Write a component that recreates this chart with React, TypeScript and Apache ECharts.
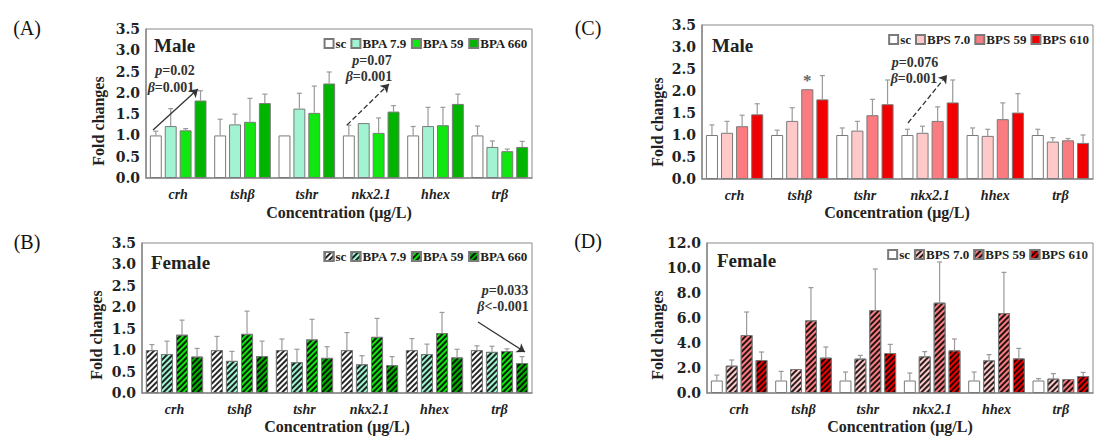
import React, { useEffect, useRef } from 'react';
import * as echarts from 'echarts';

const categories = ['crh', 'tshβ', 'tshr', 'nkx2.1', 'hhex', 'trβ'];
const bpaNames = ['sc', 'BPA 7.9', 'BPA 59', 'BPA 660'];
const bpsNames = ['sc', 'BPS 7.0', 'BPS 59', 'BPS 610'];

// (A) Male, BPA
const aSc = [1.0, 1.0, 1.0, 1.0, 1.0, 1.0];
const aBpa79 = [1.22, 1.26, 1.63, 1.29, 1.22, 0.73];
const aBpa59 = [1.12, 1.32, 1.53, 1.06, 1.24, 0.63];
const aBpa660 = [1.82, 1.76, 2.22, 1.56, 1.74, 0.73];
const aScSd = [0.1, 0.38, 0, 0.24, 0.21, 0.22];
const aBpa79Sd = [0.41, 0.24, 0.36, 0, 0.44, 0.14];
const aBpa59Sd = [0.04, 0.55, 0.63, 0.35, 0.42, 0.05];
const aBpa660Sd = [0.23, 0.21, 0.27, 0.14, 0.23, 0.13];

// (B) Female, BPA
const bSc = [1.0, 1.0, 1.0, 1.0, 1.0, 1.0];
const bBpa79 = [0.91, 0.75, 0.72, 0.67, 0.91, 0.96];
const bBpa59 = [1.36, 1.38, 1.25, 1.31, 1.4, 0.98];
const bBpa660 = [0.85, 0.86, 0.82, 0.65, 0.83, 0.7];
const bScSd = [0.13, 0.32, 0.26, 0.41, 0.27, 0.1];
const bBpa79Sd = [0.3, 0.22, 0.3, 0.2, 0.23, 0.13];
const bBpa59Sd = [0.34, 0.53, 0.47, 0.43, 0.48, 0.05];
const bBpa660Sd = [0.19, 0.35, 0.26, 0.2, 0.19, 0.15];

// (C) Male, BPS
const cSc = [1.0, 1.0, 1.0, 1.0, 1.0, 1.0];
const cBps70 = [1.05, 1.32, 1.1, 1.05, 0.98, 0.85];
const cBps59 = [1.2, 2.04, 1.45, 1.32, 1.36, 0.88];
const cBps610 = [1.47, 1.81, 1.7, 1.74, 1.51, 0.82];
const cScSd = [0.23, 0.11, 0.16, 0.13, 0.16, 0.13];
const cBps70Sd = [0.26, 0.3, 0.21, 0.15, 0.15, 0.09];
const cBps59Sd = [0.25, 0, 0.36, 0.32, 0.37, 0.04];
const cBps610Sd = [0.24, 0.54, 0.55, 0.51, 0.43, 0.18];

// (D) Female, BPS
const dSc = [1.0, 1.0, 1.0, 1.0, 1.0, 1.0];
const dBps70 = [2.19, 1.92, 2.75, 2.93, 2.61, 1.15];
const dBps59 = [4.64, 5.81, 6.64, 7.23, 6.4, 1.12];
const dBps610 = [2.64, 2.83, 3.2, 3.41, 2.77, 1.36];
const dScSd = [0.43, 0.73, 0.68, 0.6, 0.68, 0.15];
const dBps70Sd = [0.45, 0, 0.26, 0.38, 0.46, 0.4];
const dBps59Sd = [1.84, 2.62, 3.28, 3.25, 3.25, 0];
const dBps610Sd = [0.64, 0.85, 0.69, 0.91, 0.8, 0.29];

const yTicksSmall = { max: 3.5, interval: 0.5 };
const yTicksLarge = { max: 12, interval: 2 };

const greenColors = ['#ffffff', '#a2f3d2', '#10e610', '#00b400'];
const redColors = ['#ffffff', '#ffc9c9', '#fa7c80', '#f00000'];

const SERIF = '"Liberation Serif", "Times New Roman", serif';
const WIDE_SERIF = '"DejaVu Serif", "Liberation Serif", serif';
const CAT_GAP = 0.12;
const BAR_GAP = 0.25;

const hatch = {
  symbol: 'rect',
  symbolSize: 1,
  color: 'rgba(0,0,0,0.85)',
  dashArrayX: [1, 0],
  dashArrayY: [1.5, 2],
  rotation: -Math.PI / 4,
};

const panels = [
  {
    key: 'A', grid: { left: 146, top: 29, width: 386, height: 149 },
    names: bpaNames, means: [aSc, aBpa79, aBpa59, aBpa660], sds: [aScSd, aBpa79Sd, aBpa59Sd, aBpa660Sd],
    colors: greenColors, hatched: [false, false, false, false], y: yTicksSmall,
    legend: { right: 582, top: 32 },
  },
  {
    key: 'B', grid: { left: 142, top: 243, width: 390, height: 150 },
    names: bpaNames, means: [bSc, bBpa79, bBpa59, bBpa660], sds: [bScSd, bBpa79Sd, bBpa59Sd, bBpa660Sd],
    colors: greenColors, hatched: [true, true, true, true], y: yTicksSmall,
    legend: { right: 582, top: 245 },
  },
  {
    key: 'C', grid: { left: 702, top: 25, width: 391, height: 154 },
    names: bpsNames, means: [cSc, cBps70, cBps59, cBps610], sds: [cScSd, cBps70Sd, cBps59Sd, cBps610Sd],
    colors: redColors, hatched: [false, false, false, false], y: yTicksSmall,
    legend: { right: 21, top: 28 },
  },
  {
    key: 'D', grid: { left: 707, top: 243, width: 386, height: 150 },
    names: bpsNames, means: [dSc, dBps70, dBps59, dBps610], sds: [dScSd, dBps70Sd, dBps59Sd, dBps610Sd],
    colors: redColors, hatched: [false, true, true, true], y: yTicksLarge,
    legend: { right: 22, top: 243 },
  },
];

const arrows: Record<string, any[]> = {
  A: [
    { from: [153, 130], to: [198, 89], type: 'solid' },
    { from: [347, 125], to: [389, 84], type: 'dashed' },
  ],
  B: [{ from: [478, 322], to: [525, 352], type: 'solid' }],
  C: [{ from: [908, 123], to: [947, 75], type: 'dashed' }],
  D: [],
};

const annotations = [
  { x: 175, y: 70, sym: 'p', rest: '=0.02' },
  { x: 171, y: 87, sym: 'β', rest: '=0.001' },
  { x: 372, y: 60, sym: 'p', rest: '=0.07' },
  { x: 369, y: 76, sym: 'β', rest: '=0.001' },
  { x: 505, y: 290, sym: 'p', rest: '=0.033' },
  { x: 503, y: 306, sym: 'β', rest: '<-0.001' },
  { x: 915, y: 62, sym: 'p', rest: '=0.076' },
  { x: 914, y: 78, sym: 'β', rest: '=0.001' },
];

function buildOption() {
  const grids: any[] = [];
  const xAxes: any[] = [];
  const yAxes: any[] = [];
  const series: any[] = [];
  const legends: any[] = [];
  const graphics: any[] = [];

  panels.forEach((p, pi) => {
    grids.push({ ...p.grid, show: true, borderColor: '#8a8a8a', borderWidth: 1, backgroundColor: 'transparent' });
    xAxes.push({
      type: 'category', gridIndex: pi, data: categories,
      axisLine: { show: true, lineStyle: { color: '#8a8a8a', width: 1.5 } },
      axisTick: { show: false },
      axisLabel: { margin: 9, fontFamily: SERIF, fontSize: 14, fontWeight: 'bold', fontStyle: 'italic', color: '#222' },
    });
    yAxes.push({
      type: 'value', gridIndex: pi, min: 0, max: p.y.max, interval: p.y.interval,
      axisLine: { show: true, lineStyle: { color: '#8a8a8a', width: 1.5 } },
      axisTick: { show: false },
      splitLine: { show: false },
      axisLabel: { margin: 6, fontFamily: WIDE_SERIF, fontSize: 14, fontWeight: 'bold', color: '#222', formatter: (v: number) => v.toFixed(1) },
    });
    p.names.forEach((n, i) => {
      const data = p.means[i].map((v, ci) => {
        if (p.key === 'C' && i === 2 && ci === 1) {
          return { value: v, label: { show: true, position: 'top', distance: 0, formatter: '*', fontSize: 17, fontWeight: 'bold', color: '#666', fontFamily: SERIF } };
        }
        return v;
      });
      const s: any = {
        type: 'bar', name: `${p.key}|${n}`, xAxisIndex: pi, yAxisIndex: pi, data,
        barCategoryGap: `${CAT_GAP * 100}%`, barGap: `${BAR_GAP * 100}%`,
        itemStyle: { color: p.colors[i], borderColor: '#7a7a7a', borderWidth: 1 },
        emphasis: { disabled: true },
      };
      if (p.hatched[i]) s.itemStyle.decal = hatch;
      if (i === 0 && arrows[p.key].length) {
        s.markLine = {
          silent: true, symbol: ['none', 'arrow'], symbolSize: 8, label: { show: false },
          data: arrows[p.key].map((a) => [
            { x: a.from[0], y: a.from[1], lineStyle: { type: a.type, color: '#333', width: 1.3 } },
            { x: a.to[0], y: a.to[1] },
          ]),
        };
      }
      series.push(s);
    });
    const errData: any[] = [];
    p.means.forEach((arr, si) => arr.forEach((v, ci) => errData.push([ci, v, p.sds[si][ci], si])));
    series.push({
      type: 'custom', name: `${p.key}|err`, xAxisIndex: pi, yAxisIndex: pi, data: errData, silent: true, z: 3,
      renderItem: (params: any, api: any) => {
        const ci = api.value(0), v = api.value(1), sd = api.value(2), si = api.value(3);
        if (!(sd > 0)) return { type: 'group', children: [] };
        const base = api.coord([ci, v]);
        const top = api.coord([ci, v + sd]);
        const band = api.size([1, 0])[0];
        const total = band * (1 - CAT_GAP);
        const bw = total / (4 + 3 * BAR_GAP);
        const x = base[0] - total / 2 + si * bw * (1 + BAR_GAP) + bw / 2;
        const st = { stroke: '#9a9a9a', lineWidth: 1.2 };
        return {
          type: 'group', children: [
            { type: 'line', shape: { x1: x, y1: base[1], x2: x, y2: top[1] }, style: st },
            { type: 'line', shape: { x1: x - 2.5, y1: top[1], x2: x + 2.5, y2: top[1] }, style: st },
          ],
        };
      },
    });
    legends.push({
      ...p.legend, orient: 'horizontal', itemWidth: 9, itemHeight: 9, itemGap: 4, icon: 'rect',
      data: p.names.map((n) => `${p.key}|${n}`),
      formatter: (name: string) => name.split('|')[1],
      textStyle: { fontFamily: SERIF, fontSize: 13, fontWeight: 'bold', color: '#222', padding: [0, 0, 0, -3] },
      selectedMode: false,
    });
  });

  const txt = (x: number, y: number, text: string, extra: any = {}, rot = 0) => ({
    type: 'text', x, y, rotation: rot, silent: true,
    style: { text, align: 'center', verticalAlign: 'middle', fontFamily: SERIF, fill: '#222', ...extra },
  });

  // panel letters
  [['(A)', 27, 28], ['(B)', 27, 242], ['(C)', 588, 28], ['(D)', 588, 241]].forEach(([t, x, y]) =>
    graphics.push(txt(x as number, y as number, t as string, { fontSize: 20, fill: '#111' })));
  // sex labels
  [['Male', 154, 45], ['Female', 151, 262], ['Male', 712, 45], ['Female', 717, 260]].forEach(([t, x, y]) =>
    graphics.push(txt(x as number, y as number, t as string, { fontSize: 19, fontWeight: 'bold', align: 'left' })));
  // y titles
  [[98, 121], [96, 335], [657, 122], [657, 335]].forEach(([x, y]) =>
    graphics.push(txt(x, y, 'Fold changes', { fontSize: 16, fontWeight: 'bold' }, Math.PI / 2)));
  // x titles
  [[339, 212], [337, 426], [897, 212], [900, 426]].forEach(([x, y]) =>
    graphics.push(txt(x, y, 'Concentration (μg/L)', { fontSize: 16, fontWeight: 'bold' })));
  // annotations
  annotations.forEach((a) =>
    graphics.push({
      type: 'text', x: a.x, y: a.y, silent: true,
      style: {
        text: `{i|${a.sym}}{b|${a.rest}}`, align: 'center', verticalAlign: 'middle',
        rich: {
          i: { fontFamily: SERIF, fontSize: 14, fontWeight: 'bold', fontStyle: 'italic', fill: '#333' },
          b: { fontFamily: SERIF, fontSize: 14, fontWeight: 'bold', fill: '#333' },
        },
      },
    }));

  return {
    animation: false,
    backgroundColor: '#ffffff',
    grid: grids,
    xAxis: xAxes,
    yAxis: yAxes,
    legend: legends,
    series,
    graphic: graphics,
  };
}

export default function App() {
  const ref = useRef<HTMLDivElement>(null);
  useEffect(() => {
    if (!ref.current) return;
    const chart = echarts.init(ref.current, null, { renderer: 'svg' });
    chart.setOption(buildOption() as any);
    return () => chart.dispose();
  }, []);
  return <div ref={ref} style={{ position: 'absolute', left: 0, top: 0, width: 1115, height: 448, background: '#fff' }} />;
}
